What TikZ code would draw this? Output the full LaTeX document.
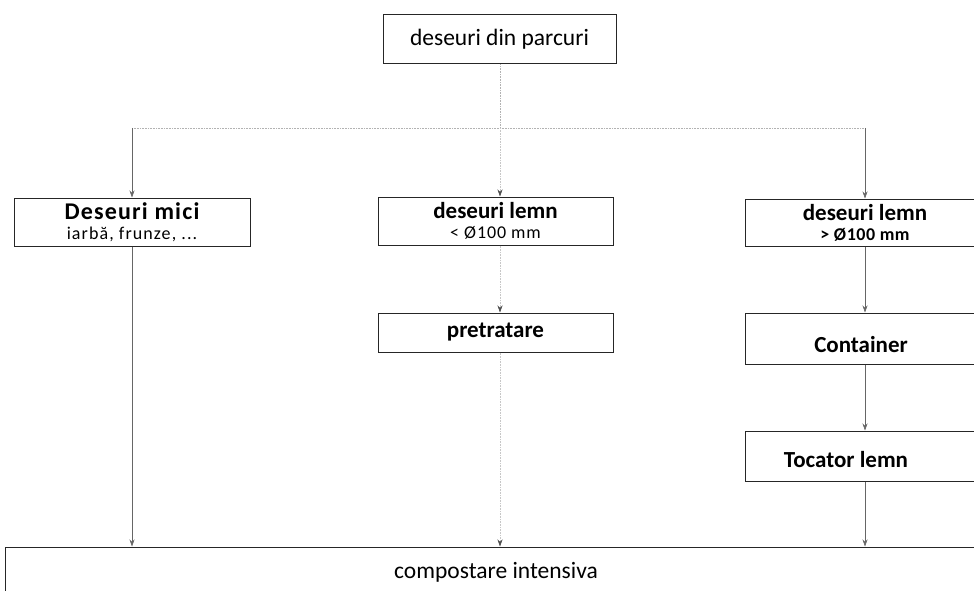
\documentclass[tikz,border=0pt]{standalone}
\usepackage{fontspec}
\setmainfont{Carlito}
\usetikzlibrary{arrows.meta}
\begin{document}
\begin{tikzpicture}[x=1pt,y=-1pt,
  box/.style={draw=black!85, line width=1pt, minimum width=#1, inner sep=0pt, align=center},
  two/.style={font=\fontsize{18}{20}\selectfont},
  conn/.style={draw=black!60, line width=0.6pt, -{Stealth[length=7pt,width=5pt]}},
  faint/.style={draw=black!30, densely dotted, line width=0.6pt},
  fconn/.style={draw=black!22, densely dotted, line width=0.6pt, -{Stealth[length=7pt,width=5pt,color=black!70]}},
  big/.style={font=\fontsize{23.5}{26}\selectfont},
  bbig/.style={font=\fontsize{23}{26}\selectfont\bfseries}
]
\useasboundingbox (0,0) rectangle (974,591);
\clip (0,0) rectangle (974,591);

\node[box=233pt, minimum height=49pt, big] (top) at (499.5,39.5) {deseuri din parcuri};

\node[box=236pt, minimum height=48pt, two] (mici) at (132,222) {\fontsize{24}{20}\selectfont\bfseries\addfontfeature{LetterSpace=5}Deseuri mici\\\fontsize{18}{20}\selectfont\mdseries\addfontfeature{LetterSpace=6}iarbă, frunze, ...};
\node[box=235pt, minimum height=48pt, two] (lemnA) at (495.5,221) {\fontsize{23}{20}\selectfont\bfseries deseuri lemn\\\fontsize{18}{20}\selectfont\mdseries\addfontfeature{LetterSpace=5}< Ø100 mm};
\node[box=240pt, minimum height=47pt, two] (lemnB) at (865,222.5) {\fontsize{23}{20}\selectfont\bfseries deseuri lemn\\\fontsize{18}{20}\selectfont\bfseries\addfontfeature{LetterSpace=3}> Ø100 mm};

\node[box=235pt, minimum height=39pt, bbig] (pre) at (495.5,332.5) {pretratare};
\node[box=240pt, minimum height=51pt, bbig, text height=27pt, text depth=0pt] (cont) at (865,338.5) {Container\hspace*{8pt}};
\node[box=240pt, minimum height=50pt, bbig, text height=23pt, text depth=0pt] (toc) at (865,456) {Tocator lemn\hspace*{38pt}};

\node[box=982pt, minimum height=50pt, big] (comp) at (496,572) {compostare intensiva};

\coordinate (split) at (500,128);
\coordinate (L) at (132,128);
\coordinate (R) at (865,128);

\draw[faint] (top.south -| split) -- (split);
\draw[faint] (L) -- (R);
\draw[conn] (L) -- (mici.north);
\draw[conn] (R) -- (lemnB.north);
\draw[fconn] (split) -- (split |- lemnA.north);
\draw[fconn] (lemnA.south -| split) -- (pre.north -| split);
\draw[fconn] (pre.south -| split) -- (comp.north -| split);
\draw[conn] (mici.south) -- (comp.north -| mici.south);
\draw[conn] (lemnB.south) -- (cont.north);
\draw[conn] (cont.south) -- (toc.north);
\draw[conn] (toc.south) -- (comp.north -| toc.south);
\end{tikzpicture}
\end{document}
